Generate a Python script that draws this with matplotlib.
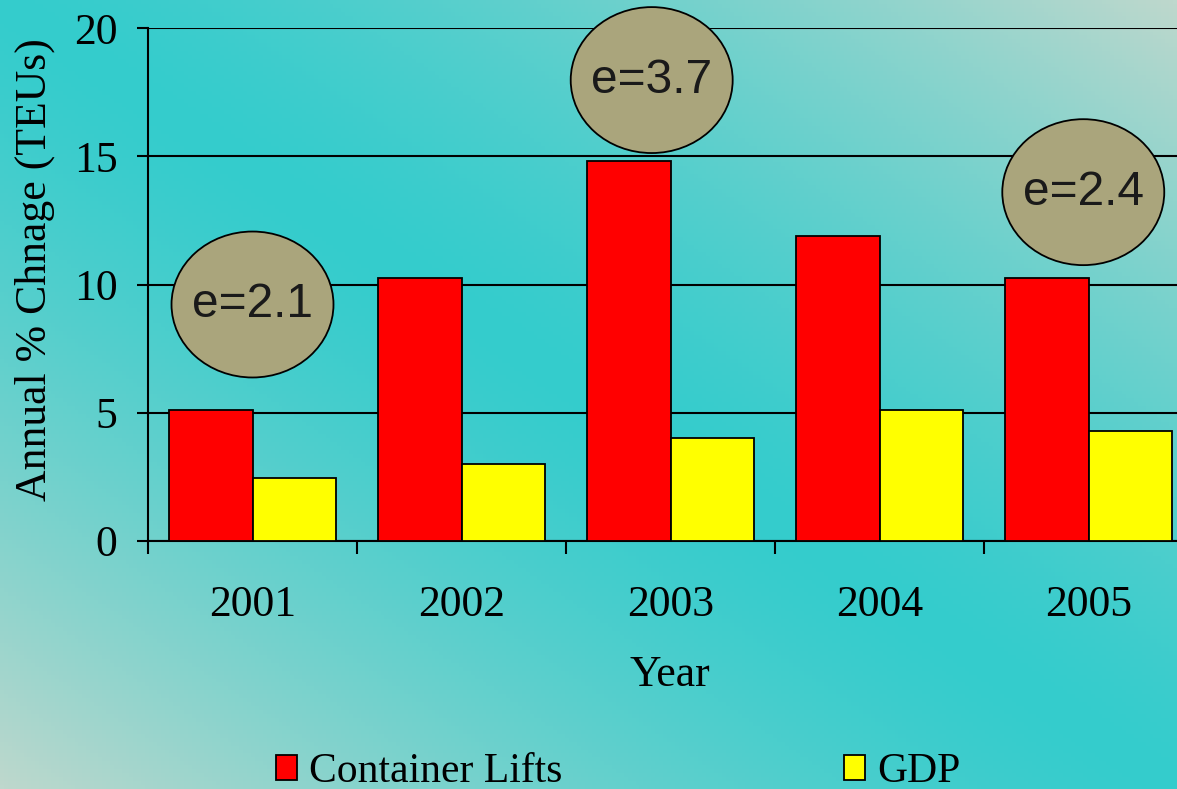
import numpy as np
import matplotlib
matplotlib.use("Agg")
import matplotlib.pyplot as plt
from matplotlib.patches import Ellipse

# data
years = ['2001', '2002', '2003', '2004', '2005']
container_lifts = [5.1, 10.25, 14.8, 11.9, 10.25]
gdp = [2.45, 3.0, 4.0, 5.1, 4.3]

# elasticity bubbles: (x in category units, y in % units, label)
bubble_x = [0.0, 1.91, 3.975]
bubble_y = [9.22, 17.97, 13.6]
bubble_labels = ['e=2.1', 'e=3.7', 'e=2.4']

serif = 'Liberation Serif'
fs = 31.5
fig = plt.figure(figsize=(11.77, 7.89), dpi=100)

# teal gradient background, lighter towards top-right and bottom-left corners
bg = fig.add_axes([0, 0, 1, 1], zorder=-10)
H, W = 200, 300
u = np.linspace(0, 1, W)[None, :]
v = np.linspace(0, 1, H)[:, None]
t = np.clip(np.abs(u - v), 0, 1) ** 1.4
c0 = np.array([52, 204, 204]) / 255
c1 = np.array([190, 216, 205]) / 255
img = c0[None, None, :] * (1 - t[..., None]) + c1[None, None, :] * t[..., None]
bg.imshow(img, aspect='auto', extent=[0, 1, 0, 1], origin='upper')
bg.axis('off')

ax = fig.add_axes([148 / 1177, 1 - 541 / 789, 1045 / 1177, 513 / 789])
ax.set_facecolor('none')

x = np.arange(len(years))
w = 0.4
b1 = ax.bar(x - w / 2, container_lifts, w, color='#ff0000', edgecolor='black',
            linewidth=1.3, label='Container Lifts', zorder=3)
b2 = ax.bar(x + w / 2, gdp, w, color='#ffff00', edgecolor='black',
            linewidth=1.3, label='GDP', zorder=3)

for bx, by, lab in zip(bubble_x, bubble_y, bubble_labels):
    ax.add_patch(Ellipse((bx, by), 0.775, 5.69, facecolor='#aaa57c',
                         edgecolor='black', linewidth=1.3, zorder=4,
                         clip_on=False))
    ax.text(bx, by, lab, ha='center', va='center', fontsize=34.5,
            family='Liberation Sans', color='#1a1a1a', zorder=5)

ax.set_xlim(-0.5, 4.5)
ax.set_ylim(0, 20)
ax.set_yticks([0, 5, 10, 15, 20])
ax.yaxis.grid(True, color='black', linewidth=1.5, zorder=1)
ax.set_axisbelow(True)
for s in ['top', 'right']:
    ax.spines[s].set_visible(False)
ax.spines['left'].set_linewidth(1.5)
ax.spines['bottom'].set_linewidth(1.5)

ax.set_xticks(np.arange(-0.5, 5, 1))
ax.set_xticklabels([])
ax.set_xticks(x, minor=True)
ax.set_xticklabels(years, minor=True, fontsize=fs, family=serif)
ax.tick_params(axis='x', which='major', direction='out', length=9, width=1.5)
ax.tick_params(axis='x', which='minor', length=0, pad=32)
ax.tick_params(axis='y', direction='out', length=8, width=1.5, pad=14,
               labelsize=fs)
for lbl in ax.get_yticklabels():
    lbl.set_family(serif)

fig.text(35 / 1177, 1 - 270 / 789, 'Annual % Chnage (TEUs)', rotation=90,
         ha='center', va='center', fontsize=31.5, family=serif)
fig.text(670 / 1177, 1 - 675 / 789, 'Year', ha='center', va='center',
         fontsize=fs, family=serif)

fig.legend(handles=[b1, b2], loc='center left',
           bbox_to_anchor=(276 / 1177, 1 - 772 / 789), ncol=2, frameon=False,
           prop={'family': serif, 'size': 30}, handlelength=0.5,
           handleheight=0.55, handletextpad=0.3, columnspacing=6.75,
           borderpad=0, borderaxespad=0)

fig.savefig('out.png', dpi=100)
